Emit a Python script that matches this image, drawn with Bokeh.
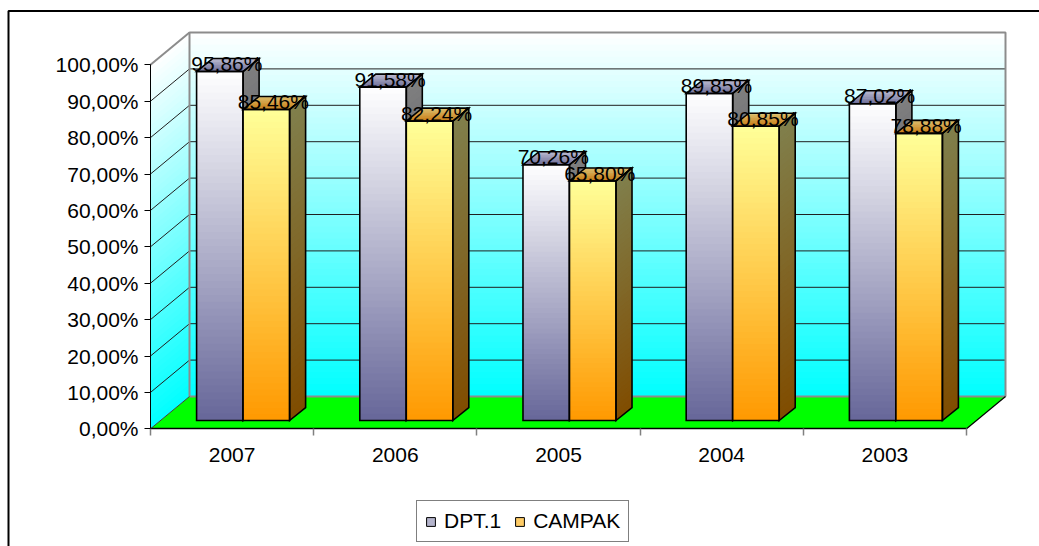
import numpy as np
from bokeh.plotting import figure
from bokeh.models import FixedTicker, Legend, LegendItem, Range1d
from bokeh.embed import file_html
from bokeh.resources import INLINE
from bokeh.core.properties import value

# ---------------- data ----------------
years = ["2007", "2006", "2005", "2004", "2003"]
dpt = [95.86, 91.58, 70.26, 89.85, 87.02]
campak = [85.46, 82.24, 65.80, 80.85, 78.88]
series_names = ["DPT.1", "CAMPAK"]
y_ticks = [0, 10, 20, 30, 40, 50, 60, 70, 80, 90, 100]
y_tick_labels = ["0,00%", "10,00%", "20,00%", "30,00%", "40,00%", "50,00%",
                 "60,00%", "70,00%", "80,00%", "90,00%", "100,00%"]

# ---------------- geometry (pixel scale of the linear scales) ----------------
W, H = 1039, 546
SX, SY = 163.2, 3.64          # px per category unit, px per percent
X0_PX, Y0_PX = 150.0, 428.3   # frame pixel of the data origin
x_start = -X0_PX / SX
x_end = x_start + W / SX
y_end = Y0_PX / SY
y_start = y_end - H / SY

DX, DY = 39.0 / SX, 32.3 / SY      # full depth of the 3-D box
BF = 8.3 / 32.3                    # depth fraction of the bar fronts
BX0, BY0 = BF * DX, BF * DY
BDX, BDY = 16.0 / SX, 13.0 / SY    # depth of a bar
BW = 0.285
OFFS = [0.221, 0.506]
NCAT = len(years)
FONT = "Liberation Sans"


def px_x(px):
    return x_start + px / SX


def px_y(py):
    return y_end - py / SY


def hx(c):
    c = c.lstrip("#")
    return np.array([int(c[i:i + 2], 16) for i in (0, 2, 4)], dtype=float)


def lerp(a, b, t):
    c = a + (b - a) * t
    return "#%02x%02x%02x" % tuple(int(round(v)) for v in np.clip(c, 0, 255))


FRONT = [(hx("#ffffff"), hx("#666699")), (hx("#ffff99"), hx("#ff9900"))]
TOPC = [(hx("#6c6c96"), hx("#bcbcd2")), (hx("#c87a12"), hx("#dcc070"))]

p = figure(width=W, height=H, output_backend="svg", toolbar_location=None,
           x_range=Range1d(x_start, x_end), y_range=Range1d(y_start, y_end),
           min_border=0)
p.outline_line_color = None
p.background_fill_color = "white"
p.xgrid.visible = False
p.ygrid.visible = False

# ---------------- walls ----------------
N = 60
cyan, white = hx("#00ffff"), hx("#ffffff")
eps = 0.4
bl, br, bb, bt, bc = [], [], [], [], []
lxs, lys, lc = [], [], []
for k in range(N):
    y0 = 100 * k / N
    y1 = 100 * (k + 1) / N + (eps if k < N - 1 else 0)
    col = lerp(cyan, white, (k + 0.5) / N)
    bl.append(DX); br.append(NCAT + DX); bb.append(DY + y0); bt.append(DY + y1); bc.append(col)
    lxs.append([0, DX, DX, 0]); lys.append([y0, y0 + DY, y1 + DY, y1]); lc.append(col)
p.quad(left=bl, right=br, bottom=bb, top=bt, fill_color=bc, line_color=None)
p.patches(xs=lxs, ys=lys, fill_color=lc, line_color=None)

# gridlines
gl = [t for t in y_ticks if 0 < t < 100]
p.segment(x0=[DX] * len(gl), y0=[g + DY for g in gl], x1=[NCAT + DX] * len(gl),
          y1=[g + DY for g in gl], line_color="#202020", line_width=1)
p.segment(x0=[0] * len(gl), y0=gl, x1=[DX] * len(gl), y1=[g + DY for g in gl],
          line_color="#202020", line_width=1)

# wall borders
p.line(x=[DX, DX, NCAT + DX, NCAT + DX], y=[DY, 100 + DY, 100 + DY, DY],
       line_color="#8c8c8c", line_width=2)
p.line(x=[0, DX], y=[100, 100 + DY], line_color="#8c8c8c", line_width=2)

# floor
p.patch(x=[0, NCAT, NCAT + DX, DX], y=[0, 0, DY, DY], fill_color="#00ff00", line_color=None)
p.line(x=[DX, NCAT + DX], y=[DY, DY], line_color="#8c8c8c", line_width=2)
p.line(x=[NCAT, NCAT + DX], y=[0, DY], line_color="black", line_width=1.2)
p.line(x=[0, DX], y=[0, DY], line_color="#404040", line_width=1)

# ---------------- bars ----------------
NB = 50
MT = 8
lab_x, lab_y, lab_t = [], [], []
for c in range(NCAT):
    for s, vals in enumerate([dpt, campak]):
        v = vals[c]
        xl = c + OFFS[s] + BX0
        xr = xl + BW
        yb = BY0
        yt = BY0 + v
        ctop, cbot = FRONT[s]
        sxs, sys_, scol = [], [], []
        fl, fr, fb, ft, fcol = [], [], [], [], []
        for k in range(NB):
            y0 = yb + v * k / NB
            y1 = yb + v * (k + 1) / NB + (0.3 if k < NB - 1 else 0)
            tt = 1 - (k + 0.5) / NB
            sxs.append([xr, xr + BDX, xr + BDX, xr])
            sys_.append([y0, y0 + BDY, y1 + BDY, y1])
            scol.append(lerp(ctop * 0.5, cbot * 0.5, tt))
            fl.append(xl); fr.append(xr); fb.append(y0); ft.append(y1)
            fcol.append(lerp(ctop, cbot, tt))
        p.patches(xs=sxs, ys=sys_, fill_color=scol, line_color=None)
        txs, tys, tcol = [], [], []
        c0, c1 = TOPC[s]
        for j in range(MT):
            a0 = j / MT
            a1 = min(1.0, (j + 1) / MT + 0.05)
            txs.append([xl + a0 * BDX, xr + a0 * BDX, xr + a1 * BDX, xl + a1 * BDX])
            tys.append([yt + a0 * BDY, yt + a0 * BDY, yt + a1 * BDY, yt + a1 * BDY])
            tcol.append(lerp(c0, c1, (j + 0.5) / MT))
        p.patches(xs=txs, ys=tys, fill_color=tcol, line_color=None)
        p.quad(left=fl, right=fr, bottom=fb, top=ft, fill_color=fcol, line_color=None)
        p.patches(xs=[[xl, xr, xr, xl],
                      [xr, xr + BDX, xr + BDX, xr],
                      [xl, xr, xr + BDX, xl + BDX]],
                  ys=[[yb, yb, yt, yt],
                      [yb, yb + BDY, yt + BDY, yt],
                      [yt, yt, yt + BDY, yt + BDY]],
                  fill_color=None, line_color="black", line_width=1.6, line_join="miter")
        lab_x.append((xl + xr) / 2 + 7.0 / SX)
        lab_y.append(yt + 7.8 / SY)
        lab_t.append(("%.2f" % v).replace(".", ",") + "%")

p.text(x=lab_x, y=lab_y, text=lab_t, text_font=value(FONT), text_font_size="21px",
       text_align="center", text_baseline="alphabetic", text_color="black")

# ---------------- axes ----------------
yax = p.yaxis[0]
yax.fixed_location = 0
yax.bounds = (0, 100)
yax.ticker = FixedTicker(ticks=y_ticks, minor_ticks=[])
yax.major_label_overrides = {t: l for t, l in zip(y_ticks, y_tick_labels)}
yax.major_tick_out = 6
yax.major_tick_in = 0
yax.major_label_standoff = 6
yax.major_label_text_font = FONT
yax.major_label_text_font_size = "21px"
yax.major_label_text_color = "black"
yax.axis_line_color = "black"
yax.major_tick_line_color = "black"

xax = p.xaxis[0]
xax.fixed_location = 0
xax.bounds = (0, NCAT)
centers = [c + 0.5 for c in range(NCAT)]
xax.ticker = FixedTicker(ticks=centers, minor_ticks=list(range(NCAT + 1)))
xax.major_label_overrides = {t: y for t, y in zip(centers, years)}
xax.major_tick_line_color = None
xax.major_tick_out = 0
xax.major_tick_in = 0
xax.minor_tick_out = 7
xax.minor_tick_in = 0
xax.minor_tick_line_color = "#808080"
xax.minor_tick_line_width = 1.5
xax.major_label_standoff = 12
xax.major_label_text_font = FONT
xax.major_label_text_font_size = "21px"
xax.major_label_text_color = "black"
xax.axis_line_color = "black"
xax.axis_line_width = 1.5

# ---------------- outer border (left & top) ----------------
p.line(x=[px_x(8), px_x(8), px_x(1050)], y=[px_y(560), px_y(10.5), px_y(10.5)],
       line_color="black", line_width=2)

# ---------------- legend ----------------
off = -100.0
r1 = p.quad(left=[off], right=[off + 0.1], bottom=[off], top=[off + 1],
            fill_color="#b4b4cc", line_color="black", line_width=1)
r2 = p.quad(left=[off], right=[off + 0.1], bottom=[off], top=[off + 1],
            fill_color="#ffcc66", line_color="black", line_width=1)
legend = Legend(items=[LegendItem(label=series_names[0], renderers=[r1]),
                       LegendItem(label=series_names[1], renderers=[r2])],
                orientation="horizontal", location=(416, 4), margin=0,
                padding=8, spacing=13, label_standoff=8,
                glyph_width=11, glyph_height=11,
                label_text_font=FONT, label_text_font_size="21px",
                label_text_color="black",
                border_line_color="black", border_line_width=1,
                background_fill_color="white", background_fill_alpha=1)
p.add_layout(legend)

open("out.html", "w").write(file_html(p, INLINE))
